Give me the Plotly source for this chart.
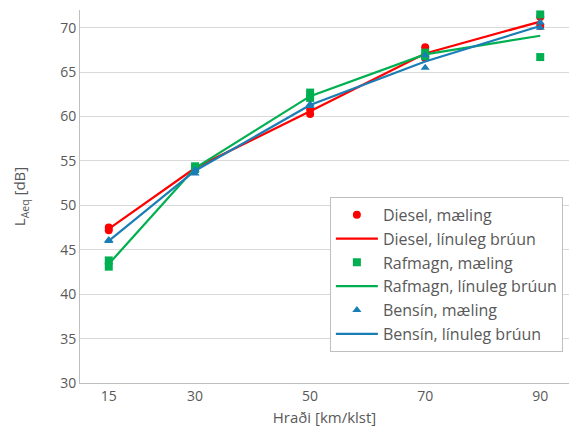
import plotly.graph_objects as go

speeds = [15, 30, 50, 70, 90]

# measurements (two per speed)
meas_x = [15, 15, 30, 30, 50, 50, 70, 70, 90, 90]
diesel_meas = [47.2, 47.5, 54.3, 54.1, 60.3, 60.8, 67.8, 66.6, 70.2, 71.2]
rafmagn_meas = [43.8, 43.1, 54.4, 54.1, 62.7, 62.1, 67.2, 66.8, 71.5, 66.7]
bensin_meas = [46.0, 46.1, 54.0, 53.6, 61.4, 61.2, 66.9, 65.5, 70.6, 70.0]

# linear interpolation lines
diesel_line = [47.35, 54.2, 60.6, 67.1, 70.7]
rafmagn_line = [43.4, 54.2, 62.3, 67.0, 69.1]
bensin_line = [46.0, 53.9, 61.3, 66.2, 70.2]

x_ticks = [15, 30, 50, 70, 90]
y_ticks = [30, 35, 40, 45, 50, 55, 60, 65, 70]

RED = "#FF0000"
GREEN = "#00B050"
BLUE = "#1B7DB6"
FONT = "Open Sans"

fig = go.Figure()
fig.add_trace(go.Scatter(x=meas_x, y=diesel_meas, mode="markers", name="Diesel, mæling",
                         marker=dict(symbol="circle", size=8, color=RED)))
fig.add_trace(go.Scatter(x=speeds, y=diesel_line, mode="lines", name="Diesel, línuleg brúun",
                         line=dict(color=RED, width=2.25)))
fig.add_trace(go.Scatter(x=meas_x, y=rafmagn_meas, mode="markers", name="Rafmagn, mæling",
                         marker=dict(symbol="square", size=8, color=GREEN)))
fig.add_trace(go.Scatter(x=speeds, y=rafmagn_line, mode="lines", name="Rafmagn, línuleg brúun",
                         line=dict(color=GREEN, width=2.25)))
fig.add_trace(go.Scatter(x=meas_x, y=bensin_meas, mode="markers", name="Bensín, mæling",
                         marker=dict(symbol="triangle-up", size=8, color=BLUE)))
fig.add_trace(go.Scatter(x=speeds, y=bensin_line, mode="lines", name="Bensín, línuleg brúun",
                         line=dict(color=BLUE, width=2.25)))

fig.update_layout(
    width=569, height=441,
    margin=dict(l=80, r=0, t=10, b=58),
    paper_bgcolor="white", plot_bgcolor="white",
    font=dict(family=FONT, color="#595959", size=14),
    xaxis=dict(range=[10, 95], tickvals=x_ticks, showgrid=False, zeroline=False,
               showline=True, linecolor="#BFBFBF", linewidth=1, ticks="", automargin=False,
               title=dict(text="Hraði [km/klst]", font=dict(size=15), standoff=8),
               tickfont=dict(size=14)),
    yaxis=dict(range=[30, 72], tickvals=y_ticks, showgrid=True, gridcolor="#D9D9D9",
               zeroline=False, showline=True, linecolor="#BFBFBF", linewidth=1, ticks="",
               automargin=False,
               title=dict(text="L<sub>Aeq</sub> [dB]", font=dict(size=15), standoff=30),
               tickfont=dict(size=14)),
    legend=dict(x=0.511, y=0.499, xanchor="left", yanchor="top",
                bgcolor="white", bordercolor="#BFBFBF", borderwidth=1,
                font=dict(size=16, color="#595959"), tracegroupgap=0,
                itemwidth=42),
    showlegend=True,
)

fig.write_html("out.html", config={"displayModeBar": False},
               post_script="document.body.style.margin='0';document.body.style.overflow='hidden';")
